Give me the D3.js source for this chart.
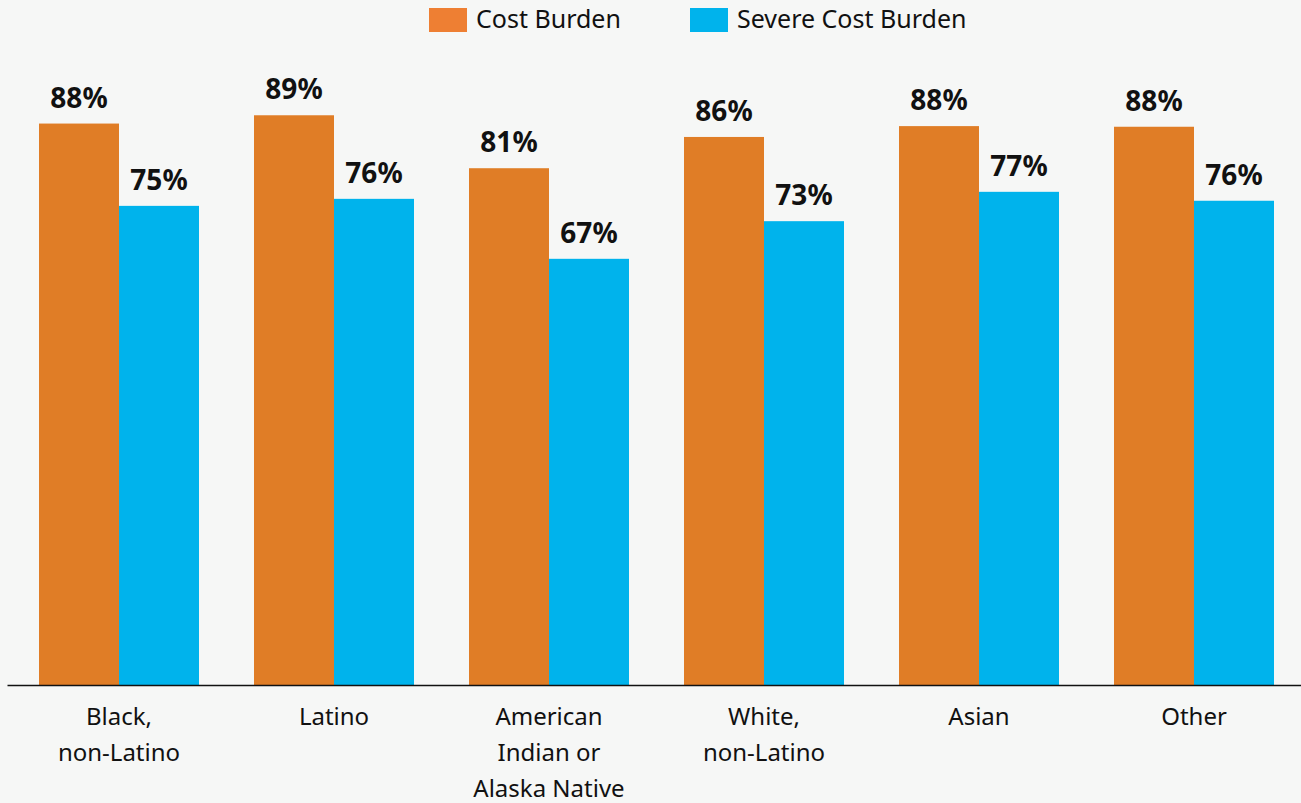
<!DOCTYPE html>
<html><head><meta charset="utf-8">
<script src="https://cdn.jsdelivr.net/npm/d3@7"></script>
<style>
html,body{margin:0;padding:0;background:#f6f7f6;}
svg{display:block;font-family:"Noto Sans", Lato, sans-serif;}
</style></head>
<body><svg id="chart" width="1301" height="803"></svg>
<script>
const categories = ["Black,\nnon-Latino", "Latino", "American\nIndian or\nAlaska Native", "White,\nnon-Latino", "Asian", "Other"];
const seriesNames = ["Cost Burden", "Severe Cost Burden"];
const costBurden = [0.880, 0.893, 0.810, 0.859, 0.876, 0.875];
const severeCostBurden = [0.751, 0.762, 0.668, 0.727, 0.773, 0.759];
const colors = ["#e07d26", "#00b3ec"];
const legendColors = ["#ee7f33", "#00b3ec"];

const svg = d3.select("#chart");
const baseY = 685;

const x = d3.scaleBand().domain(categories).range([7, 1306]).paddingInner(55 / 215).paddingOuter(32 / 215);
const xs = d3.scaleBand().domain(seriesNames).range([0, x.bandwidth()]);
const y = d3.scaleLinear().domain([0, 1]).range([baseY, 47]);

const data = categories.map((c, i) => ({cat: c, vals: [costBurden[i], severeCostBurden[i]]}));
const fmt = d3.format(".0%");

const g = svg.selectAll("g.grp").data(data).join("g").attr("class", "grp")
  .attr("transform", d => `translate(${x(d.cat)},0)`);

g.selectAll("rect").data(d => d.vals.map((v, j) => ({v, s: seriesNames[j], j})))
  .join("rect")
  .attr("x", d => xs(d.s)).attr("width", xs.bandwidth())
  .attr("y", d => y(d.v)).attr("height", d => baseY - y(d.v))
  .attr("fill", d => colors[d.j]);

g.selectAll("text.val").data(d => d.vals.map((v, j) => ({v, s: seriesNames[j]})))
  .join("text").attr("class", "val")
  .attr("x", d => xs(d.s) + xs.bandwidth() / 2)
  .attr("y", d => y(d.v) - 16)
  .attr("text-anchor", "middle")
  .attr("font-size", 28).attr("font-weight", "bold").attr("fill", "#111")
  .text(d => fmt(d.v));

// axis
const axis = svg.append("g").attr("transform", `translate(0,${baseY})`)
  .call(d3.axisBottom(x).tickSize(0).tickSizeOuter(0).tickFormat(""));
axis.select(".domain").attr("stroke", "#111").attr("stroke-width", 1.5);

const lbl = svg.append("g").selectAll("text").data(categories).join("text")
  .attr("x", d => x(d) + x.bandwidth() / 2).attr("y", baseY + 40)
  .attr("text-anchor", "middle").attr("font-size", 24).attr("fill", "#111");
lbl.selectAll("tspan").data(d => d.split("\n")).join("tspan")
  .attr("x", function() { return d3.select(this.parentNode).attr("x"); })
  .attr("dy", (d, i) => i === 0 ? 0 : 36)
  .text(d => d);

// legend
const legendX = [429, 690];
const lg = svg.append("g").selectAll("g").data(seriesNames).join("g")
  .attr("transform", (d, i) => `translate(${legendX[i]},8)`);
lg.append("rect").attr("width", 38).attr("height", 24).attr("fill", (d, i) => legendColors[i]);
lg.append("text").attr("x", 47).attr("y", 20).attr("font-size", 25).attr("fill", "#111").text(d => d);
</script></body></html>
